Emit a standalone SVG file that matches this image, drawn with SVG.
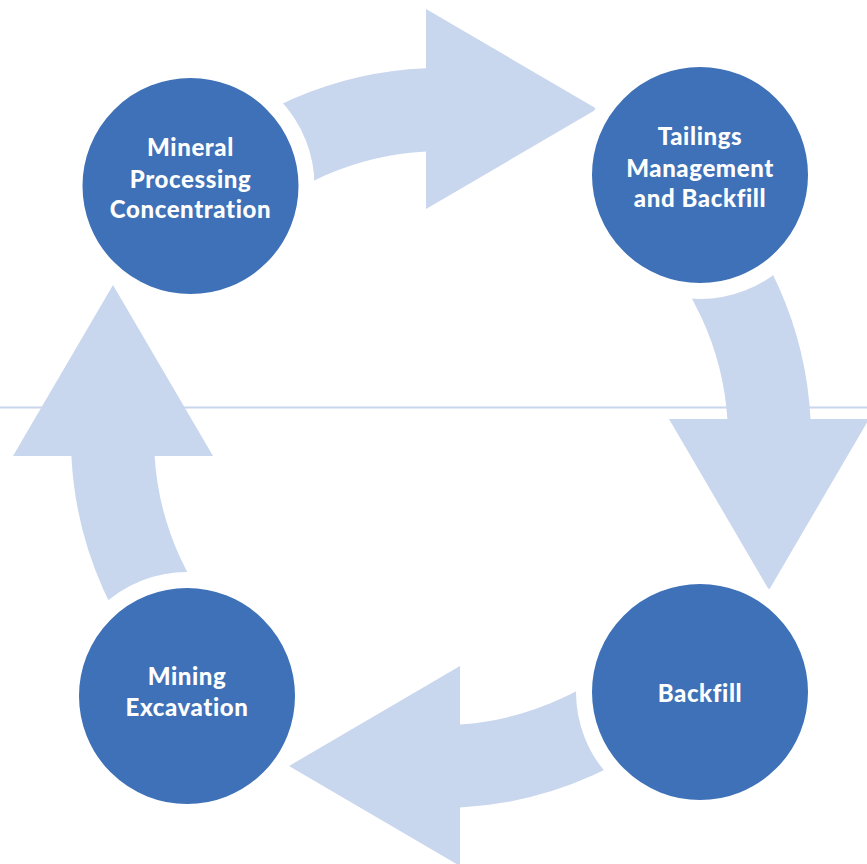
<svg xmlns="http://www.w3.org/2000/svg" width="867" height="864" viewBox="0 0 867 864">
<style>
.arrow{fill:#C8D6EE;stroke:none}
.node{fill:#3E71B7;stroke:#FFFFFF;stroke-width:16}
.lbl{font-family:Lato,"Open Sans","Liberation Sans",sans-serif;font-weight:900;font-size:24px;letter-spacing:0.6px;fill:#FFFFFF;text-anchor:middle}
</style>
<rect width="867" height="864" fill="#FFFFFF"/>
<line x1="0" y1="407.5" x2="867" y2="407.5" stroke="#C8D6EE" stroke-width="2"/>
<g id="connectors">
<path class="arrow" d="M 180.1 175.5 A 370 370 0 0 1 426 68.3 L 426 9 L 597 109 L 426 209 L 426 151.4 A 287 287 0 0 0 238.6 234.4 Z"/>
<path class="arrow" d="M 700.6 174.4 A 370 370 0 0 1 810.5 419 L 869 419 L 769 590 L 669 419 L 727.4 419 A 287 287 0 0 0 642.4 233.5 Z"/>
<path class="arrow" d="M 705.1 697 A 370 370 0 0 1 460 807.5 L 460 866 L 289 766 L 460 666 L 460 724.4 A 287 287 0 0 0 645.9 638.9 Z"/>
<path class="arrow" d="M 181.4 701.7 A 370 370 0 0 1 71.4 456 L 13 456 L 113 285 L 213 456 L 154.6 456 A 287 287 0 0 0 239.6 642.5 Z"/>
</g>
<g id="node-mineral">
<circle class="node" cx="190.5" cy="186" r="116"/>
<text class="lbl" x="190.5" y="156">Mineral</text>
<text class="lbl" x="190.5" y="187.5">Processing</text>
<text class="lbl" x="190.5" y="218">Concentration</text>
</g>
<g id="node-tailings">
<circle class="node" cx="700" cy="175" r="116"/>
<text class="lbl" x="700" y="145">Tailings</text>
<text class="lbl" x="700" y="176.5">Management</text>
<text class="lbl" x="700" y="207">and Backfill</text>
</g>
<g id="node-backfill">
<circle class="node" cx="700" cy="692" r="116"/>
<text class="lbl" x="700" y="701.5">Backfill</text>
</g>
<g id="node-mining">
<circle class="node" cx="187" cy="696" r="116"/>
<text class="lbl" x="187" y="685">Mining</text>
<text class="lbl" x="187" y="715.5">Excavation</text>
</g>
</svg>
